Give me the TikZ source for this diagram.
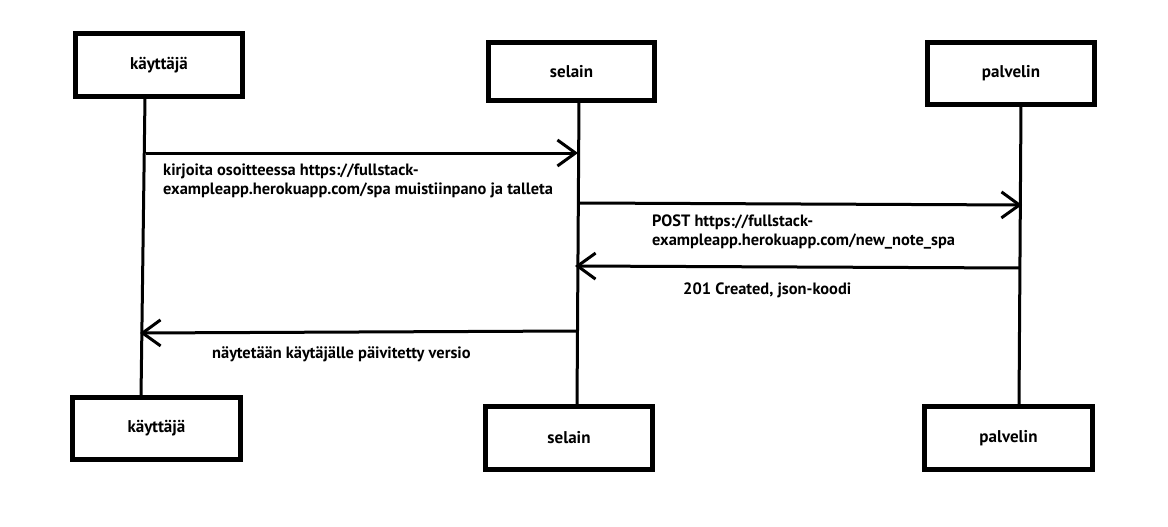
\documentclass[tikz,border=0pt]{standalone}
\usepackage{fontspec}
\setmainfont{PT Sans}
\usetikzlibrary{arrows.meta}
\begin{document}
\begin{tikzpicture}[x=1pt,y=-1pt,
  actor/.style={draw=black,line width=5pt,fill=white,inner sep=0pt,
    font=\bfseries\fontsize{17}{20}\selectfont},
  life/.style={line width=3pt},
  msg/.style={line width=3pt,-{Straight Barb[length=18pt,width=26pt,line width=3pt]}},
  msgtext/.style={inner sep=0pt,align=left,font=\bfseries\fontsize{16.4}{18.7}\selectfont}]
\useasboundingbox (0,0) rectangle (1168,527);
\fill[white] (0,0) rectangle (1168,527);
% lifeline endpoints
\coordinate (ut) at (145,97);  \coordinate (ub) at (141,397);
\coordinate (st) at (579,101); \coordinate (sb) at (577,406);
\coordinate (pt) at (1021,105);\coordinate (pb) at (1019,406);
\draw[life] (ut) -- (ub);
\draw[life] (st) -- (sb);
\draw[life] (pt) -- (pb);
% boxes
\node[actor,minimum width=167pt,minimum height=63pt] (u1) at (159,65) {käyttäjä};
\node[actor,minimum width=166pt,minimum height=58pt] (s1) at (571.5,71.5) {selain};
\node[actor,minimum width=167pt,minimum height=62pt] (p1) at (1011,73.5) {palvelin};
\node[actor,minimum width=168pt,minimum height=62pt] (u2) at (156.5,428.5) {käyttäjä};
\node[actor,minimum width=167pt,minimum height=63pt] (s2) at (569,438) {selain};
\node[actor,minimum width=168pt,minimum height=63pt] (p2) at (1008.5,438) {palvelin};
% message end points
\coordinate (m1a) at (146,153);  \coordinate (m1b) at (578,153);
\coordinate (m2a) at (580,203);  \coordinate (m2b) at (1022,205);
\coordinate (m3a) at (1020,268); \coordinate (m3b) at (575,266);
\coordinate (m4a) at (577,331);  \coordinate (m4b) at (140,333);
\draw[msg] (m1a) -- (m1b);
\draw[msg] (m2a) -- (m2b);
\draw[msg] (m3a) -- (m3b);
\draw[msg] (m4a) -- (m4b);
% labels
\node[msgtext,anchor=west] (t1) at (163,181) {kirjoita osoitteessa https://fullstack-\\exampleapp.herokuapp.com/spa muistiinpano ja talleta};
\node[msgtext,anchor=west] (t2) at (652,232) {POST https://fullstack-\\exampleapp.herokuapp.com/new\_note\_spa};
\node[msgtext,anchor=base west] (t3) at (683,294) {201 Created, json-koodi};
\node[msgtext,anchor=base west] (t4) at (212,358) {näytetään käytäjälle päivitetty versio};
\end{tikzpicture}
\end{document}
